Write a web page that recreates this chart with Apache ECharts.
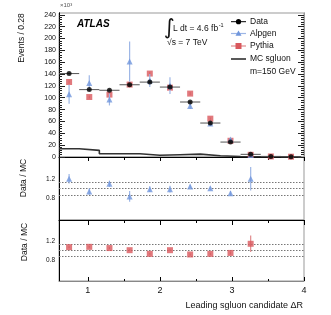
<!DOCTYPE html>
<html><head><meta charset="utf-8">
<script src="https://cdn.jsdelivr.net/npm/echarts@6/dist/echarts.min.js"></script>
<style>html,body{margin:0;padding:0;background:#fff}#c{width:331px;height:315px}</style>
</head><body><div id="c"></div>
<script>
// ---- data ----
const binCenters = [0.74,1.02,1.30,1.58,1.86,2.14,2.42,2.70,2.98,3.26,3.54,3.82];
const binHalfWidth = 0.14;
const binEdges = [0.6,0.88,1.16,1.44,1.72,2.0,2.28,2.56,2.84,3.12,3.40,3.68,3.96];
const dataValues = [140.8,113.7,112.6,121.9,126.4,118,92.8,57.3,25.2,4.5,1.0,0.5];
const dataErrors = [1.2,1.1,1.1,1.1,1.1,1.1,1.0,0.8,0.5,0.2,0.1,0.1];
const alpgenValues = [106,125,97,161,129,120.5,86,56.7,29.6,3.4];
const alpgenErrors = [16,13,10,34,11,14,5,3,2,1];
const pythiaValues = [126.6,101.2,105.3,122.2,140.8,117,107,64.7,27.4,3.7,0.9,0.5];
const pythiaErrors = [3,2.5,2.5,3,3,3,2.5,2,1,0.5,0.3,0.2];
const sgluonValues = [14,11.2,5.6,5.6,3,3.9,4.9,2.2,0.8,0.5,0.3,0.2];
const ratioAlpgen = [1.31,0.905,1.15,0.75,0.98,0.98,1.06,1.01,0.85,1.31];
const ratioAlpgenErrors = [0.15,0.1,0.1,0.17,0.09,0.11,0.06,0.05,0.07,0.37];
const ratioPythia = [1.11,1.12,1.08,1.01,0.89,1.01,0.87,0.89,0.92,1.22];
const ratioPythiaErrors = [0.03,0.03,0.03,0.03,0.03,0.03,0.03,0.04,0.05,0.27];
const xTicks = [1,2,3,4];
const xMinorTicks = [1.5,2.5,3.5];
const yTicks = [0,20,40,60,80,100,120,140,160,180,200,220,240];
const yMinorTicks = [];
for (let v = 0; v <= 240; v += 4) yMinorTicks.push(v);
const ratioLines = [0.8,1.0,1.2];
const ratioLabelTexts = ['0.8','1.2'];
const ratioLabelPos = [0.68,1.31];

// ---- styling ----
const FONT = 'Liberation Sans';
const BLUE = '#7096dc', BLUE_ERR = '#9db6e6';
const RED = '#d9585d', RED_ERR = '#e08a8c';

function errRender(color, width) {
  return function (params, api) {
    const x = api.value(0), y = api.value(1), ex = api.value(2), ey = api.value(3);
    const ch = [];
    if (ex > 0) {
      const a = api.coord([x - ex, y]), b = api.coord([x + ex, y]);
      ch.push({type:'line', shape:{x1:a[0],y1:a[1],x2:b[0],y2:b[1]}, style:{stroke:color,lineWidth:width}});
    }
    if (ey > 0) {
      const a = api.coord([x, y - ey]), b = api.coord([x, y + ey]);
      ch.push({type:'line', shape:{x1:a[0],y1:a[1],x2:b[0],y2:b[1]}, style:{stroke:color,lineWidth:width}});
    }
    return {type:'group', children:ch};
  };
}

const grids = [
  {left:59, top:13, width:245, height:144},
  {left:59, top:157, width:245, height:63},
  {left:59, top:220, width:245, height:61}
].map(g => Object.assign(g, {show:true, borderColor:'#999', borderWidth:1, containLabel:false}));

function xAx(gi, ticks, len, inside, showLine, labels, lineColor) {
  return {
    type:'value', gridIndex:gi, min:0.6, max:4.0, position:'bottom',
    axisLine:{show:showLine, onZero:false, lineStyle:{color:lineColor||'#000', width:1}},
    axisTick:{show:true, inside:inside, length:len, customValues:ticks, lineStyle:{color:'#000'}},
    axisLabel:{show:!!labels, customValues:ticks, margin:5, fontSize:9, color:'#111', fontFamily:FONT},
    splitLine:{show:false}
  };
}
const xAxes = [
  xAx(0, xTicks, 4, false, true, false),
  xAx(0, xMinorTicks, 3, false, false, false),
  xAx(1, xTicks, 5, false, true, false),
  xAx(1, xMinorTicks, 3, false, false, false),
  xAx(2, xTicks, 4, true, true, true, '#888'),
  xAx(2, xMinorTicks, 2, true, false, false)
];

function yMain(pos, ticks, len, labels, lineColor) {
  return {
    type:'value', gridIndex:0, min:0, max:243, position:pos,
    axisLine:{show:true, lineStyle:{color:lineColor, width:1}},
    axisTick:{show:true, inside:true, length:len, customValues:ticks, lineStyle:{color:'#222'}},
    axisLabel:{show:labels, customValues:yTicks, margin:3, fontSize:7, color:'#111', fontFamily:FONT},
    splitLine:{show:false}
  };
}
function yRatio(gi) {
  return {
    type:'value', gridIndex:gi, min:0, max:2, position:'left',
    axisLine:{show:true, lineStyle:{color:'#000', width:1}},
    axisTick:{show:false},
    axisLabel:{show:true, customValues:ratioLabelPos, margin:4, fontSize:6.5, color:'#111', fontFamily:FONT,
      formatter:(v)=> v < 1 ? ratioLabelTexts[0] : ratioLabelTexts[1]},
    splitLine:{show:false}
  };
}
const yAxes = [
  yMain('left', yTicks, 6, true, '#000'),
  yMain('left', yMinorTicks, 3, false, '#000'),
  yMain('right', yTicks, 6, false, '#999'),
  yMain('right', yMinorTicks, 3, false, '#999'),
  yRatio(1),
  yRatio(2)
];

const sgluonData = binEdges.map((e, i) => [e, sgluonValues[Math.min(i, sgluonValues.length - 1)]]);

function refLineSeries(xi, yi) {
  return {
    type:'line', xAxisIndex:xi, yAxisIndex:yi, data:[], silent:true, z:1,
    markLine:{silent:true, symbol:'none', label:{show:false}, animation:false,
      lineStyle:{type:[1.5,1.5], color:'#777', width:1},
      data: ratioLines.map(v => ({yAxis:v}))}
  };
}

const series = [
  {name:'MC sgluon', type:'line', xAxisIndex:0, yAxisIndex:0, step:'end', symbol:'none',
    data:sgluonData, lineStyle:{color:'#333', width:1.6}, z:2},
  // Pythia
  {type:'custom', xAxisIndex:0, yAxisIndex:0, renderItem:errRender(RED_ERR, 1), z:3,
    data: pythiaValues.map((v,i)=>[binCenters[i], v, 0, pythiaErrors[i]])},
  {name:'Pythia', type:'scatter', xAxisIndex:0, yAxisIndex:0, symbol:'rect', symbolSize:6,
    itemStyle:{color:RED}, z:4, data: pythiaValues.map((v,i)=>[binCenters[i], v])},
  // Alpgen
  {type:'custom', xAxisIndex:0, yAxisIndex:0, renderItem:errRender(BLUE_ERR, 1.2), z:5,
    data: alpgenValues.map((v,i)=>[binCenters[i], v, 0, alpgenErrors[i]])},
  {name:'Alpgen', type:'scatter', xAxisIndex:0, yAxisIndex:0, symbol:'triangle', symbolSize:6,
    itemStyle:{color:BLUE}, z:6, data: alpgenValues.map((v,i)=>[binCenters[i], v])},
  // Data
  {type:'custom', xAxisIndex:0, yAxisIndex:0, renderItem:errRender('#555', 1), z:7,
    data: dataValues.map((v,i)=>[binCenters[i], v, binHalfWidth, dataErrors[i]])},
  {name:'Data', type:'scatter', xAxisIndex:0, yAxisIndex:0, symbol:'circle', symbolSize:5,
    itemStyle:{color:'#000'}, z:8, data: dataValues.map((v,i)=>[binCenters[i], v])},
  // ratio Alpgen
  refLineSeries(2, 4),
  {type:'custom', xAxisIndex:2, yAxisIndex:4, renderItem:errRender(BLUE_ERR, 1.2), z:5,
    data: ratioAlpgen.map((v,i)=>[binCenters[i], v, 0, ratioAlpgenErrors[i]])},
  {type:'scatter', xAxisIndex:2, yAxisIndex:4, symbol:'triangle', symbolSize:6,
    itemStyle:{color:BLUE}, z:6, data: ratioAlpgen.map((v,i)=>[binCenters[i], v])},
  // ratio Pythia
  refLineSeries(4, 5),
  {type:'custom', xAxisIndex:4, yAxisIndex:5, renderItem:errRender(RED_ERR, 1.2), z:5,
    data: ratioPythia.map((v,i)=>[binCenters[i], v, 0, ratioPythiaErrors[i]])},
  {type:'scatter', xAxisIndex:4, yAxisIndex:5, symbol:'rect', symbolSize:6,
    itemStyle:{color:RED}, z:6, data: ratioPythia.map((v,i)=>[binCenters[i], v])}
];

function txt(x, y, text, size, extra) {
  return Object.assign({type:'text', x:x, y:y, silent:true, z:100,
    style:Object.assign({text:text, fontSize:size, fontFamily:FONT, fill:'#111',
      verticalAlign:'middle', align:'left'}, extra && extra.style || {})},
    extra && extra.el || {});
}
const legendX = 231, legendTextX = 250;
const rows = [21.7, 33.5, 46, 59, 71.7];
const graphic = [
  txt(60, 5, '×10³', 6, {style:{fill:'#555'}}),
  txt(77, 24, 'ATLAS', 10, {style:{fontWeight:'bold', fontStyle:'italic', fill:'#000'}}),
  txt(164, 29, '∫', 21, {style:{fontFamily:'DejaVu Sans'}}),
  {type:'text', x:173, y:28, silent:true, z:100, style:{
    text:'{m|L dt = 4.6 fb}{s|-1}', verticalAlign:'middle', align:'left',
    rich:{m:{fontSize:8.5, fontFamily:FONT, fill:'#111', verticalAlign:'bottom'},
          s:{fontSize:5.5, fontFamily:FONT, fill:'#111', verticalAlign:'top', padding:[0,0,5,0.5]}}}},
  txt(167, 43, '√s = 7 TeV', 8.5),
  // legend
  {type:'line', silent:true, z:100, shape:{x1:legendX, y1:rows[0], x2:legendX+15, y2:rows[0]}, style:{stroke:'#000', lineWidth:1}},
  {type:'circle', silent:true, z:101, shape:{cx:legendX+7.5, cy:rows[0], r:2.6}, style:{fill:'#000'}},
  txt(legendTextX, rows[0], 'Data', 8.5),
  {type:'line', silent:true, z:100, shape:{x1:legendX, y1:rows[1], x2:legendX+15, y2:rows[1]}, style:{stroke:BLUE_ERR, lineWidth:1.2}},
  {type:'polygon', silent:true, z:101, shape:{points:[[legendX+7.5, rows[1]-3],[legendX+4.5, rows[1]+2.2],[legendX+10.5, rows[1]+2.2]]}, style:{fill:BLUE}},
  txt(legendTextX, rows[1], 'Alpgen', 8.5),
  {type:'line', silent:true, z:100, shape:{x1:legendX, y1:rows[2], x2:legendX+15, y2:rows[2]}, style:{stroke:RED_ERR, lineWidth:1.2}},
  {type:'rect', silent:true, z:101, shape:{x:legendX+4.5, y:rows[2]-3, width:6, height:6}, style:{fill:RED}},
  txt(legendTextX, rows[2], 'Pythia', 8.5),
  {type:'line', silent:true, z:100, shape:{x1:legendX, y1:rows[3], x2:legendX+15, y2:rows[3]}, style:{stroke:'#222', lineWidth:1.5}},
  txt(legendTextX, rows[3], 'MC sgluon', 8.5),
  txt(legendTextX, rows[4], 'm=150 GeV', 8.5),
  // axis titles
  txt(22, 38, 'Events / 0.28', 8.5, {style:{align:'center'}, el:{rotation:Math.PI/2}}),
  txt(24, 178, 'Data / MC', 8.5, {style:{align:'center'}, el:{rotation:Math.PI/2}}),
  txt(25, 242, 'Data / MC', 8.5, {style:{align:'center'}, el:{rotation:Math.PI/2}}),
  txt(303, 306, 'Leading sgluon candidate ΔR', 9, {style:{align:'right'}})
];

const chart = echarts.init(document.getElementById('c'), null, {renderer:'canvas'});
chart.setOption({
  animation:false,
  backgroundColor:'#fff',
  grid:grids, xAxis:xAxes, yAxis:yAxes, series:series, graphic:graphic
});
</script></body></html>
